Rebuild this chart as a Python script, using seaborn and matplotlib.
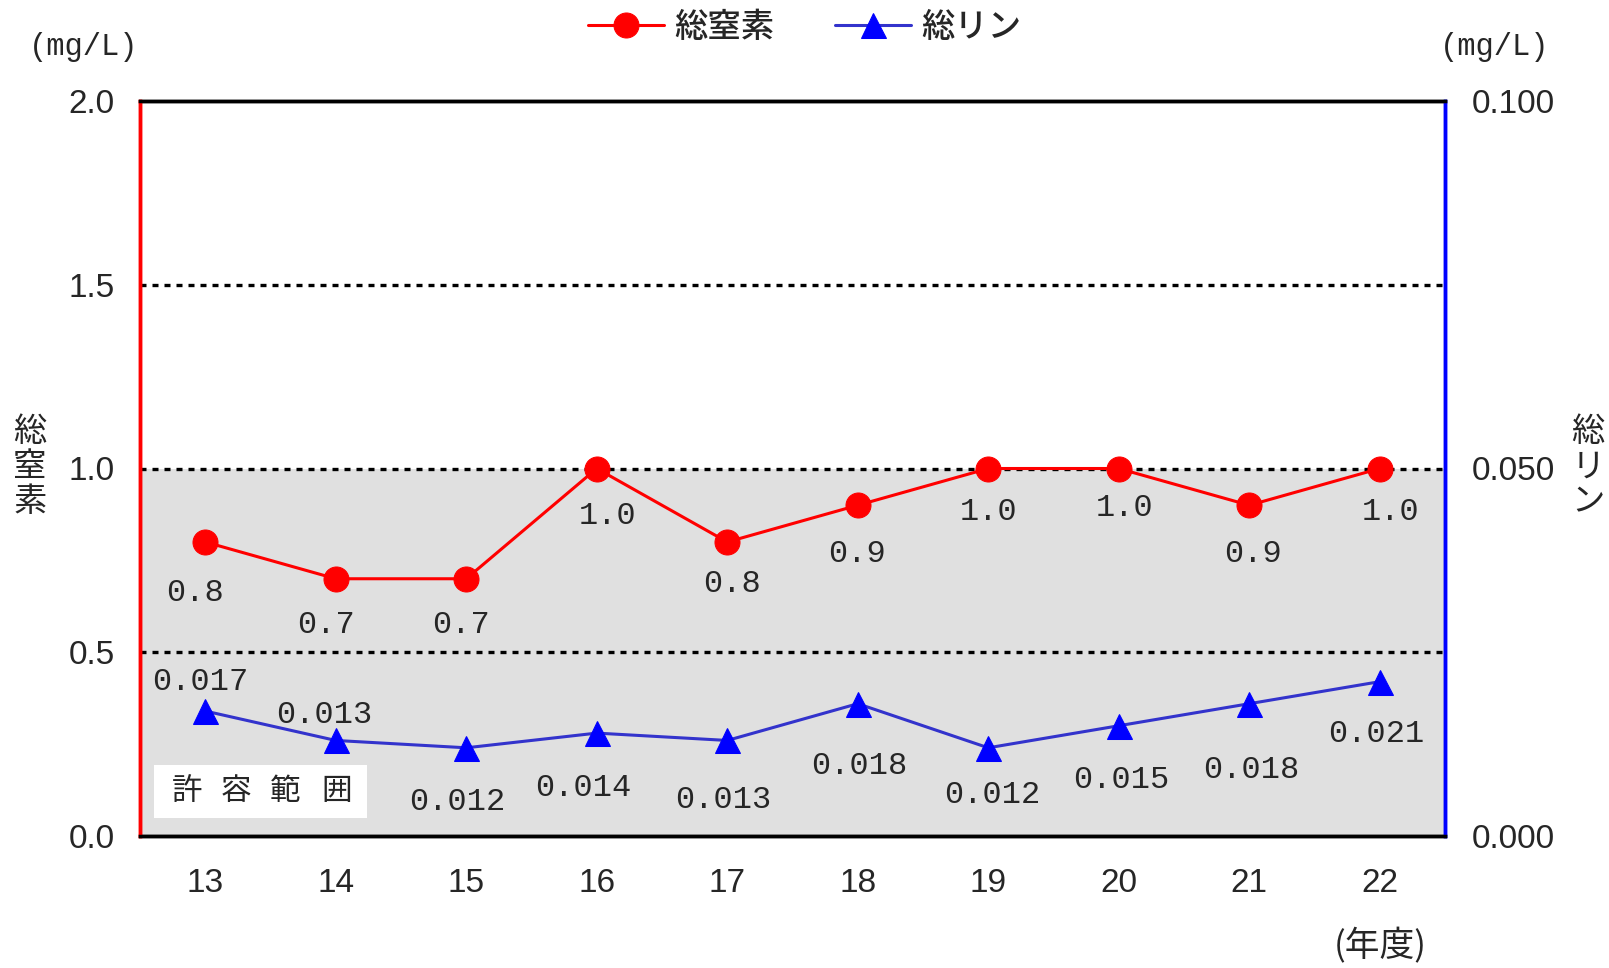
import numpy as np
import pandas as pd
import matplotlib
matplotlib.use('Agg')
import matplotlib.pyplot as plt
from matplotlib.patches import Rectangle
import seaborn as sns

# Données
years = ['13', '14', '15', '16', '17', '18', '19', '20', '21', '22']
nitrogen = [0.8, 0.7, 0.7, 1.0, 0.8, 0.9, 1.0, 1.0, 0.9, 1.0]
phosphorus = [0.017, 0.013, 0.012, 0.014, 0.013, 0.018, 0.012, 0.015, 0.018, 0.021]
left_ticks = [0.0, 0.5, 1.0, 1.5, 2.0]
right_ticks = [0.000, 0.050, 0.100]
allowed_upper = 1.0

# décalages des étiquettes (pixels)
n_offsets = [(-10, -51), (-10, -46), (-5, -46), (11, -47), (5, -42),
             (-1, -49), (0, -44), (6, -40), (4, -49), (11, -44)]
p_offsets = [(-5, 29), (-11, 25), (-9, -54), (-13, -55), (-4, -60),
             (2, -62), (4, -47), (3, -54), (2, -66), (-3, -52)]

sns.set_style('white')
plt.rcParams['font.family'] = ['Liberation Sans', 'Noto Sans CJK JP']

df = pd.DataFrame({'pos': np.arange(len(years)), 'year': years,
                   'N': nitrogen, 'P': phosphorus})

fig = plt.figure(figsize=(16.09, 9.68), dpi=100)
ax = fig.add_axes([140 / 1609, 1 - 836 / 968, 1305 / 1609, 735 / 968])
ax2 = ax.twinx()

# zone de tolérance
ax.axhspan(0, allowed_upper, color='#e0e0e0', zorder=0, lw=0)
for yv in left_ticks[1:-1]:
    ax.axhline(yv, color='black', lw=2.4, dashes=(1.8, 1.8), zorder=1)

sns.lineplot(data=df, x='pos', y='N', ax=ax, color='#ff0000', lw=2.2,
             marker='o', markersize=18, markeredgecolor='#ff0000', label='総窒素',
             legend=False, zorder=3)
sns.lineplot(data=df, x='pos', y='P', ax=ax2, color='#3333cc', lw=2.2,
             marker='^', markersize=18, markerfacecolor='#0000ff',
             markeredgecolor='#0000ff', label='総リン', legend=False, zorder=3)

mono = ['Liberation Mono']
for i, v in enumerate(nitrogen):
    ax.annotate(f'{v:.1f}', (i, v), xytext=n_offsets[i], textcoords='offset pixels',
                ha='center', va='center', fontsize=23, family=mono)
for i, v in enumerate(phosphorus):
    ax2.annotate(f'{v:.3f}', (i, v), xytext=p_offsets[i], textcoords='offset pixels',
                 ha='center', va='center', fontsize=23, family=mono)

ax.set_xlim(-0.5, len(years) - 0.5)
ax.set_ylim(0, 2.0)
ax2.set_ylim(0, 0.1)
ax.set_xticks(df['pos'])
ax.set_xticklabels(years)
ax.set_yticks(left_ticks)
ax.set_yticklabels([f'{t:.1f}' for t in left_ticks])
ax2.set_yticks(right_ticks)
ax2.set_yticklabels([f'{t:.3f}' for t in right_ticks])
ax.set_xlabel('')
ax.set_ylabel('')
ax2.set_ylabel('')
ax.tick_params(axis='both', length=0, labelsize=24)
ax.tick_params(axis='y', pad=18)
ax.tick_params(axis='x', pad=23)
ax2.tick_params(axis='y', length=0, labelsize=24, pad=19)

for a in (ax, ax2):
    a.spines['top'].set_color('black')
    a.spines['top'].set_linewidth(2.5)
    a.spines['bottom'].set_color('black')
    a.spines['bottom'].set_linewidth(2.5)
    a.spines['left'].set_color('#ff0000')
    a.spines['left'].set_linewidth(2.5)
    a.spines['right'].set_color('#0000ff')
    a.spines['right'].set_linewidth(2.5)

# textes
cjk = ['Noto Sans CJK JP']
fig.text(84 / 1609, 1 - 47 / 968, '(mg/L)', ha='center', va='center',
         fontsize=22, family=mono)
fig.text(1495 / 1609, 1 - 47 / 968, '(mg/L)', ha='center', va='center',
         fontsize=22, family=mono)
fig.text(30 / 1609, 1 - 467 / 968, '総\n窒\n素', ha='center', va='center',
         fontsize=24, family=cjk, linespacing=1.0)
fig.text(1588 / 1609, 1 - 467 / 968, '総\nリ\nン', ha='center', va='center',
         fontsize=24, family=cjk, linespacing=1.0)
fig.text(1380 / 1609, 1 - 946 / 968, '(年度)', ha='center', va='center',
         fontsize=25, family=cjk)

# encadré « 許容範囲 »
fig.add_artist(Rectangle((154 / 1609, 1 - 818 / 968), 213 / 1609, 53 / 968,
                         transform=fig.transFigure, facecolor='white',
                         edgecolor='none', zorder=5))
for ch, cx in zip('許容範囲', [187, 236, 285, 337]):
    fig.text(cx / 1609, 1 - 792 / 968, ch, ha='center', va='center',
             fontsize=22, family=cjk, zorder=6)

h1 = [l for l in ax.get_lines() if l.get_label() == '総窒素']
h2 = [l for l in ax2.get_lines() if l.get_label() == '総リン']
fig.legend(h1 + h2, ['総窒素', '総リン'], loc='center', bbox_to_anchor=(0.5, 1 - 27 / 968),
           ncol=2, frameon=False,
           prop={'family': 'Noto Sans CJK JP', 'size': 24, 'weight': 'medium'},
           handlelength=2.3, columnspacing=1.8, handletextpad=0.3)

fig.savefig('out.png', dpi=100)
